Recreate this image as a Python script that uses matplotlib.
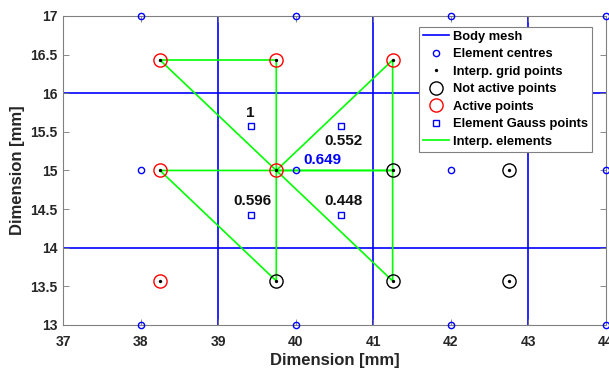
import numpy as np
import matplotlib.pyplot as plt

plt.rcParams['font.family'] = ['Liberation Sans', 'DejaVu Sans']
plt.rcParams['font.weight'] = 'bold'

# body mesh lines
mesh_x = [37, 39, 41, 43]
mesh_y = [14, 16]

# element centres
centre_x = [38, 40, 42, 44]
centre_y = [13, 15, 17]

# interpolation grid
grid_x = [38.25, 39.75, 41.25, 42.75]
grid_y = [13.57, 15.0, 16.43]
active_pts = [(38.25, 16.43), (39.75, 16.43), (41.25, 16.43),
              (38.25, 15.0), (39.75, 15.0), (38.25, 13.57)]
inactive_pts = [(41.25, 15.0), (42.75, 15.0), (42.75, 16.43),
                (39.75, 13.57), (41.25, 13.57), (42.75, 13.57)]

# interpolation elements (triangles)
triangles = [
    [(38.25, 16.43), (39.75, 16.43), (39.75, 15.0)],
    [(39.75, 15.0), (41.25, 16.43), (41.25, 15.0)],
    [(38.25, 15.0), (39.75, 15.0), (39.75, 13.57)],
    [(39.75, 15.0), (41.25, 13.57), (41.25, 15.0)],
]

# gauss points of element at (40, 15) and their weights
gauss_x = [39.42, 40.58, 39.42, 40.58]
gauss_y = [15.58, 15.58, 14.42, 14.42]
gauss_w = ['1', '0.552', '0.596', '0.448']
w_offset = [(0.0, 0.17), (0.04, -0.2), (0.02, 0.18), (0.04, 0.18)]
interp_value = '0.649'
interp_at = (39.75, 15.0)

fig = plt.figure(figsize=(6.09, 3.71), dpi=100)
ax = fig.add_axes([0.1034, 0.124, 0.8916, 0.833])

for i, x in enumerate(mesh_x):
    ax.axvline(x, color='#0000ff', lw=1.2, label='Body mesh' if i == 0 else None, zorder=1)
for y in mesh_y:
    ax.axhline(y, color='#0000ff', lw=1.2, zorder=1)

cx, cy = np.meshgrid(centre_x, centre_y)
ax.plot(cx.ravel(), cy.ravel(), 'o', ms=4.5, mfc='none', mec='#0000ff', mew=1.0,
        label='Element centres', clip_on=False, zorder=5)

gx, gy = np.meshgrid(grid_x, grid_y)
ax.plot(gx.ravel(), gy.ravel(), 'o', ms=2.4, color='black', mew=0,
        label='Interp. grid points', zorder=6)

ax.plot([p[0] for p in inactive_pts], [p[1] for p in inactive_pts], 'o', ms=9.5,
        mfc='none', mec='black', mew=1.0, label='Not active points', zorder=5)
ax.plot([p[0] for p in active_pts], [p[1] for p in active_pts], 'o', ms=9.5,
        mfc='none', mec='#ff0000', mew=1.0, label='Active points', zorder=5)

ax.plot(gauss_x, gauss_y, 's', ms=5, mfc='none', mec='#0000ff', mew=1.0,
        label='Element Gauss points', zorder=5)

for k, tri in enumerate(triangles):
    xs = [p[0] for p in tri] + [tri[0][0]]
    ys = [p[1] for p in tri] + [tri[0][1]]
    ax.plot(xs, ys, color='#00ff00', lw=1.2, label='Interp. elements' if k == 0 else None, zorder=3)

for x, y, w, (dx, dy) in zip(gauss_x, gauss_y, gauss_w, w_offset):
    ax.text(x + dx, y + dy, w, ha='center', va='center', fontsize=11, fontweight='bold',
            color='#111111')
ax.text(interp_at[0] + 0.6, interp_at[1] + 0.135, interp_value, ha='center', va='center',
        fontsize=11, fontweight='bold', color='#0000ff')

ax.set_xlim(37, 44)
ax.set_ylim(13, 17)
ax.set_xticks(range(37, 45))
ax.set_yticks(np.arange(13, 17.01, 0.5))
ax.set_yticklabels(['13', '13.5', '14', '14.5', '15', '15.5', '16', '16.5', '17'])
ax.tick_params(direction='in', top=True, right=True, length=4, width=0.6,
               color='#777777', labelsize=10, labelcolor='#262626')
ax.tick_params(axis='x', pad=7)
ax.tick_params(axis='y', pad=4)
for lab in ax.get_xticklabels() + ax.get_yticklabels():
    lab.set_fontweight('bold')
for s in ax.spines.values():
    s.set_color('#808080')
    s.set_linewidth(0.8)

ax.set_xlabel('Dimension [mm]', fontsize=12, fontweight='bold', color='#262626', labelpad=3)
ax.set_ylabel('Dimension [mm]', fontsize=12, fontweight='bold', color='#262626', labelpad=4)

leg = ax.legend(loc='upper right', bbox_to_anchor=(0.974, 0.964), borderaxespad=0,
                fontsize=9.3, handlelength=2.0, handletextpad=0.3, labelspacing=0.42,
                borderpad=0.3, fancybox=False, framealpha=1, edgecolor='#808080')
leg.get_frame().set_linewidth(0.8)
leg.set_zorder(10)
for t in leg.get_texts():
    t.set_fontweight('bold')

fig.savefig('out.png', dpi=100)
